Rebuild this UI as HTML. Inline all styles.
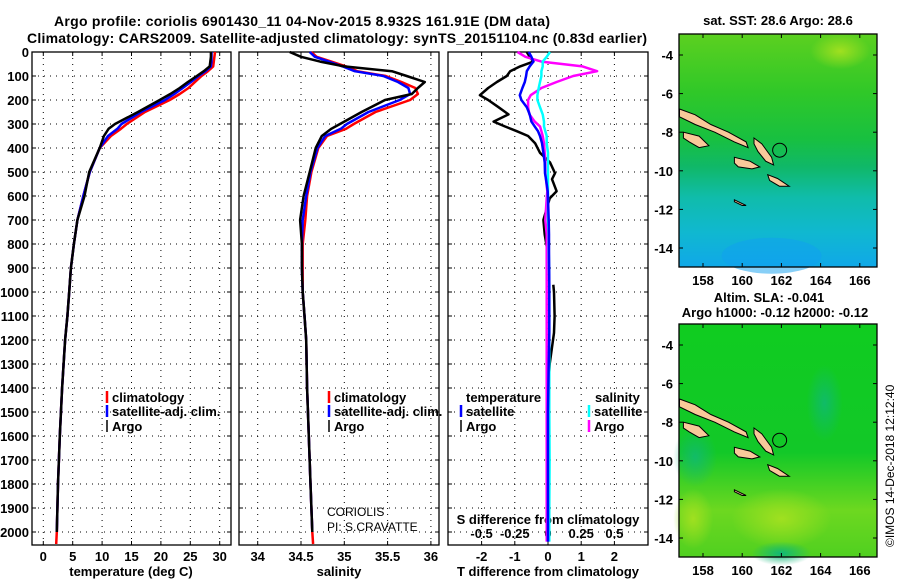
<!DOCTYPE html>
<html><head><meta charset="utf-8"><style>
body{margin:0;background:#fff}
svg{display:block;font-family:"Liberation Sans",sans-serif}
.b{font-weight:bold;font-size:13px}
</style></head><body>
<svg id="s" width="900" height="580" viewBox="0 0 900 580">
<rect width="900" height="580" fill="#fff"/>
<text class="b" x="54" y="26" textLength="496" style="font-size:14px">Argo profile: coriolis 6901430_11 04-Nov-2015 8.932S 161.91E (DM data)</text>
<text class="b" x="27" y="43" textLength="620" style="font-size:14px">Climatology: CARS2009. Satellite-adjusted climatology: synTS_20151104.nc (0.83d earlier)</text>
<g id="g"></g>
</svg>
<script>
const depth = [0,20,40,60,80,100,125,150,175,200,250,300,320,350,400,500,600,700,800,900,1000,1100,1200,1400,1600,1800,2000,2050];
const tClim = [29.2,29.1,29.0,28.9,28.0,26.9,25.8,24.7,23.2,21.5,17.3,14.2,13.2,11.5,9.6,7.9,6.8,5.8,5.2,4.7,4.4,4.1,3.7,3.2,2.8,2.5,2.3,2.2];
const tSat  = [28.6,28.6,28.6,28.5,27.6,26.4,25.1,23.7,22.3,20.7,16.6,13.3,12.6,11.0,9.6,7.9,6.8,5.8,5.2,4.7,4.4,4.1,3.7,3.2,2.8,2.5,2.3,null];
const tArgo = [28.5,28.5,28.4,28.3,27.3,26.1,24.6,23.2,21.6,19.8,16.1,12.2,11.1,10.3,9.6,7.8,7.0,5.8,5.2,4.7,4.4,4.1,3.7,3.2,2.8,2.5,2.3,null];
const sClim = [34.62,34.68,34.85,35.02,35.15,35.48,35.66,35.82,35.85,35.76,35.36,35.11,35.02,34.80,34.70,34.62,34.57,34.55,34.52,34.52,34.52,34.54,34.56,34.57,34.59,34.61,34.63,34.64];
const sSat  = [34.60,34.66,34.82,34.98,35.12,35.45,35.62,35.74,35.76,35.64,35.28,35.03,34.96,34.78,34.69,34.61,34.56,34.52,34.51,34.51,34.52,34.54,34.56,34.57,34.59,34.61,34.63,null];
const sArgo = [34.37,34.50,34.72,35.00,35.55,35.72,35.93,35.85,35.78,35.47,35.20,34.95,34.85,34.74,34.67,34.60,34.53,34.49,34.51,34.51,34.52,34.54,34.56,34.57,34.59,34.61,34.63,null];
const dDepth = [0,20,40,60,80,100,125,150,180,200,230,260,290,310,330,350,380,420,460,505,530,580,610,700,760,810,830,970,1000,1100,1170,1300,1500,1700,1900,2040];
const dTsat  = [-0.58,-0.50,-0.44,-0.55,-0.64,-0.66,-0.70,-0.77,-0.85,-0.80,-0.64,-0.55,-0.50,-0.40,-0.30,-0.24,-0.18,-0.14,-0.10,-0.09,-0.06,-0.01,0.0,0.02,0.03,0.03,0.03,0.04,0.04,0.04,0.04,0.02,0.0,0.0,0.0,0.0];
const dTargo = [-0.64,-0.55,-0.44,-0.84,-1.14,-1.24,-1.54,-1.80,-2.05,-1.80,-1.49,-1.19,-1.64,-1.30,-0.94,-0.60,-0.39,-0.24,0.06,0.21,0.12,0.26,0.05,-0.14,-0.10,-0.04,null,0.16,0.18,0.20,0.18,0.05,-0.03,-0.02,0.0,0.0];
const dSsat  = [0.015,-0.01,-0.04,-0.04,-0.05,-0.05,-0.06,-0.07,-0.08,-0.08,-0.06,-0.04,-0.03,-0.03,-0.02,-0.01,-0.01,0.0,0.0,0.0,0.0,0.0,0.0,0.0,0.005,0.005,0.005,0.01,0.01,0.01,0.01,0.01,0.01,0.012,0.01,0.01];
const dSargo = [-0.23,-0.17,-0.05,0.26,0.37,0.19,0.065,-0.05,-0.13,-0.15,-0.15,-0.14,-0.10,-0.06,-0.05,-0.04,-0.03,-0.025,-0.02,-0.02,-0.015,-0.005,-0.01,-0.02,-0.01,-0.01,-0.01,-0.01,-0.01,-0.01,-0.01,-0.01,-0.01,-0.01,-0.01,-0.01];
const depthTicks = [0,100,200,300,400,500,600,700,800,900,1000,1100,1200,1300,1400,1500,1600,1700,1800,1900,2000];
const tTicks = [0,5,10,15,20,25,30];
const sTicks = ["34","34.5","35","35.5","36"];
const dTicks = [-2,-1,0,1,2];
const dSTickLabels = ["-0.5","-0.25","0","0.25","0.5"];
const latTicks = [-4,-6,-8,-10,-12,-14];
const lonTicks = [158,160,162,164,166];

const NS="http://www.w3.org/2000/svg", G=document.getElementById('g');
function mk(t,a,p){const e=document.createElementNS(NS,t);for(const k in a)e.setAttribute(k,a[k]);(p||G).appendChild(e);return e;}
const yD=d=>52+0.24*d;
const xT=v=>43.3+5.88*v, xS=v=>257.7+86.6*(v-34), xD=v=>548+33.2*v, xDS=v=>548+132.8*v;
const panels=[[32,231],[239,439],[448,648]];
function path(ds,vs,fx,color,name,w){let d='',pen=false;for(let i=0;i<ds.length;i++){if(vs[i]==null){pen=false;continue;}d+=(pen?'L':'M')+fx(vs[i]).toFixed(1)+' '+yD(ds[i]).toFixed(1);pen=true;}
 const e=mk('path',{d:d,fill:'none',stroke:color,'stroke-width':w||2.5,'stroke-linejoin':'round'});
 
 }
function txt(x,y,s,o){const e=mk('text',Object.assign({x:x,y:y,'font-size':13,'font-weight':'bold'},o||{}));e.textContent=s;return e;}
panels.forEach((p,i)=>{
 const f=mk('rect',{x:p[0],y:52,width:p[1]-p[0],height:493,fill:'none',stroke:'#000','stroke-width':1.3});
 
 
 depthTicks.forEach(d=>{if(d>0)mk('line',{x1:p[0],x2:p[1],y1:yD(d),y2:yD(d),stroke:'#000','stroke-width':1,'stroke-dasharray':'1 5'});
  mk('line',{x1:p[0],x2:p[0]+4,y1:yD(d),y2:yD(d),stroke:'#000'});mk('line',{x1:p[1]-4,x2:p[1],y1:yD(d),y2:yD(d),stroke:'#000'});});
});
depthTicks.forEach(d=>{const t=txt(29,yD(d)+5,String(d),{'text-anchor':'end'});
 
 });
function xgrid(p,xs){xs.forEach(x=>{mk('line',{x1:x,x2:x,y1:52,y2:545,stroke:'#000','stroke-dasharray':'1 5'});mk('line',{x1:x,x2:x,y1:545,y2:541,stroke:'#000'});mk('line',{x1:x,x2:x,y1:52,y2:56,stroke:'#000'});});}
xgrid(0,tTicks.map(xT));xgrid(1,sTicks.map(s=>xS(+s)));xgrid(2,dTicks.map(xD));
tTicks.forEach(v=>{const t=txt(xT(v),561,String(v),{'text-anchor':'middle'});});
sTicks.forEach(v=>{const t=txt(xS(+v),561,v,{'text-anchor':'middle'});});
dTicks.forEach(v=>{const t=txt(xD(v),561,String(v),{'text-anchor':'middle'});});
dSTickLabels.forEach((s,i)=>{const t=txt(xD(dTicks[i]),538,s,{'text-anchor':'middle'});});
[[131,'temperature (deg C)','x-axis-title-temperature'],[339,'salinity','x-axis-title-salinity'],[548,'T difference from climatology','x-axis-title-t-diff']].forEach(a=>{const t=txt(a[0],576,a[1],{'text-anchor':'middle'});});
{const t=txt(548,524,'S difference from climatology',{'text-anchor':'middle'});}
path(depth,tClim,xT,'#f00','temperature-climatology-line');
path(depth,tSat,xT,'#00f','temperature-satellite-line');
path(depth,tArgo,xT,'#000','temperature-argo-line');
path(depth,sClim,xS,'#f00','salinity-climatology-line');
path(depth,sSat,xS,'#00f','salinity-satellite-line');
path(depth,sArgo,xS,'#000','salinity-argo-line');
path(dDepth,dTargo,xD,'#000','t-diff-argo-line');
path(dDepth,dSargo,xDS,'#f0f','s-diff-argo-line');
path(dDepth,dSsat,xDS,'#0ff','s-diff-satellite-line');
path(dDepth,dTsat,xD,'#00f','t-diff-satellite-line');
function leg(x,y,c,s,n,w){mk('line',{x1:x,x2:x,y1:y-11,y2:y+1,stroke:c,'stroke-width':w||2.5});const t=txt(x+5,y,s);}
leg(107,402,'#f00','climatology','legend-t-climatology');leg(107,416,'#00f','satellite-adj. clim.','legend-t-satellite');leg(107,431,'#000','Argo','legend-t-argo',1.5);
leg(329,402,'#f00','climatology','legend-s-climatology');leg(329,416,'#00f','satellite-adj. clim.','legend-s-satellite');leg(329,431,'#000','Argo','legend-s-argo',1.5);
{const t=txt(466,402,'temperature');}
{const t=txt(595,402,'salinity');}
leg(461,416,'#00f','satellite','legend-dt-satellite');leg(461,431,'#000','Argo','legend-dt-argo',1.5);
leg(589,416,'#0ff','satellite','legend-ds-satellite');leg(589,431,'#f0f','Argo','legend-ds-argo');
{const t=mk('text',{x:327,y:516,'font-size':12});t.textContent='CORIOLIS';}
{const t=mk('text',{x:327,y:531,'font-size':12});t.textContent='PI: S.CRAVATTE';}

const islands=[
 [[156.8,-6.8],[157.6,-7.1],[158.4,-7.6],[159.3,-8.0],[160.2,-8.5],[160.3,-8.8],[159.6,-8.5],[158.6,-8.0],[157.6,-7.6],[156.8,-7.2]],
 [[157.0,-8.0],[157.8,-8.2],[158.3,-8.7],[157.8,-8.8],[157.3,-8.5],[157.0,-8.3]],
 [[159.6,-9.3],[160.4,-9.5],[160.9,-9.8],[160.5,-9.9],[159.8,-9.8],[159.6,-9.6]],
 [[160.6,-8.3],[161.0,-8.6],[161.5,-9.3],[161.6,-9.7],[161.2,-9.5],[160.8,-9.0],[160.6,-8.6]],
 [[161.3,-10.2],[161.8,-10.4],[162.4,-10.8],[161.9,-10.8],[161.4,-10.5]],
 [[159.6,-11.5],[160.2,-11.8],[160.0,-11.8],[159.6,-11.6]]
];
function map(top,name,bg){
 const L=679,R=877,T=top,B=top+233,yl=top+21;
 const lx=v=>703+(v-158)*19.6, ly=v=>yl+(-4-v)*19.3;
 const g=mk('g',{});
 bg(g,L,T,R-L,B-T,lx,ly);
 islands.forEach(is=>{const e=mk('polygon',{points:is.map(p=>lx(p[0]).toFixed(1)+','+ly(p[1]).toFixed(1)).join(' '),fill:'#f9c99a',stroke:'#000','stroke-width':1},g);});
 const c=mk('circle',{cx:lx(161.91),cy:ly(-8.932),r:7,fill:'none',stroke:'#000'},g);
 mk('rect',{x:L,y:T,width:R-L,height:B-T,fill:'none',stroke:'#000','stroke-width':1.3},g);
 latTicks.forEach(v=>{mk('line',{x1:L,x2:L+4,y1:ly(v),y2:ly(v),stroke:'#000'},g);mk('line',{x1:R-4,x2:R,y1:ly(v),y2:ly(v),stroke:'#000'},g);
  const t=txt(673,ly(v)+5,String(v),{'text-anchor':'end'});});
 lonTicks.forEach(v=>{mk('line',{x1:lx(v),x2:lx(v),y1:B,y2:B-4,stroke:'#000'},g);mk('line',{x1:lx(v),x2:lx(v),y1:T,y2:T+4,stroke:'#000'},g);
  const t=txt(lx(v),B+18,String(v),{'text-anchor':'middle'});});
}
const defs=mk('defs',{});
defs.innerHTML='<linearGradient id="sst" x1="0" y1="0" x2="0" y2="1"><stop offset="0" stop-color="#5cd020"/><stop offset="0.25" stop-color="#30c828"/><stop offset="0.45" stop-color="#18c040"/><stop offset="0.57" stop-color="#10b868"/><stop offset="0.7" stop-color="#10bcaa"/><stop offset="0.85" stop-color="#10b8d0"/><stop offset="1" stop-color="#10a8e8"/></linearGradient>'+
'<linearGradient id="sla" x1="0" y1="0" x2="0" y2="1"><stop offset="0" stop-color="#10cc20"/><stop offset="0.55" stop-color="#12c828"/><stop offset="0.8" stop-color="#6dd820"/><stop offset="1" stop-color="#50d020"/></linearGradient>'+
'<radialGradient id="teal"><stop offset="0" stop-color="#10b878"/><stop offset="1" stop-color="#10b878" stop-opacity="0"/></radialGradient>'+
'<radialGradient id="yel"><stop offset="0" stop-color="#a0e020"/><stop offset="1" stop-color="#a0e020" stop-opacity="0"/></radialGradient>';
map(34,'sst-map',(g,x,y,w,h,lx,ly)=>{mk('rect',{x:x,y:y,width:w,height:h,fill:'url(#sst)'},g);
 mk('ellipse',{cx:lx(165),cy:ly(-3.8),rx:30,ry:18,fill:'url(#yel)'},g);mk('ellipse',{cx:lx(161.5),cy:ly(-14.4),rx:50,ry:18,fill:'#10a0f0',opacity:0.5},g);});
map(324,'sla-map',(g,x,y,w,h,lx,ly)=>{mk('rect',{x:x,y:y,width:w,height:h,fill:'url(#sla)'},g);
 mk('ellipse',{cx:lx(164.2),cy:ly(-7),rx:18,ry:38,fill:'url(#teal)',opacity:0.8},g);mk('ellipse',{cx:lx(157.6),cy:ly(-9.8),rx:22,ry:30,fill:'url(#teal)',opacity:0.8},g);
 mk('ellipse',{cx:lx(162),cy:ly(-13),rx:50,ry:30,fill:'url(#yel)'},g);mk('ellipse',{cx:lx(157.5),cy:ly(-13),rx:20,ry:30,fill:'url(#yel)'},g);
 mk('ellipse',{cx:lx(162),cy:ly(-14.8),rx:30,ry:12,fill:'url(#teal)'},g);});
{const t=txt(778,25,'sat. SST: 28.6 Argo: 28.6',{'text-anchor':'middle'});}
{const t=txt(769,302,'Altim. SLA: -0.041',{'text-anchor':'middle'});}
{const t=txt(775,317,'Argo h1000: -0.12 h2000: -0.12',{'text-anchor':'middle'});}
{const t=mk('text',{x:0,y:0,'font-size':12,transform:'translate(894,547) rotate(-90)'});t.textContent='©IMOS 14-Dec-2018 12:12:40';}
</script>
</body></html>
